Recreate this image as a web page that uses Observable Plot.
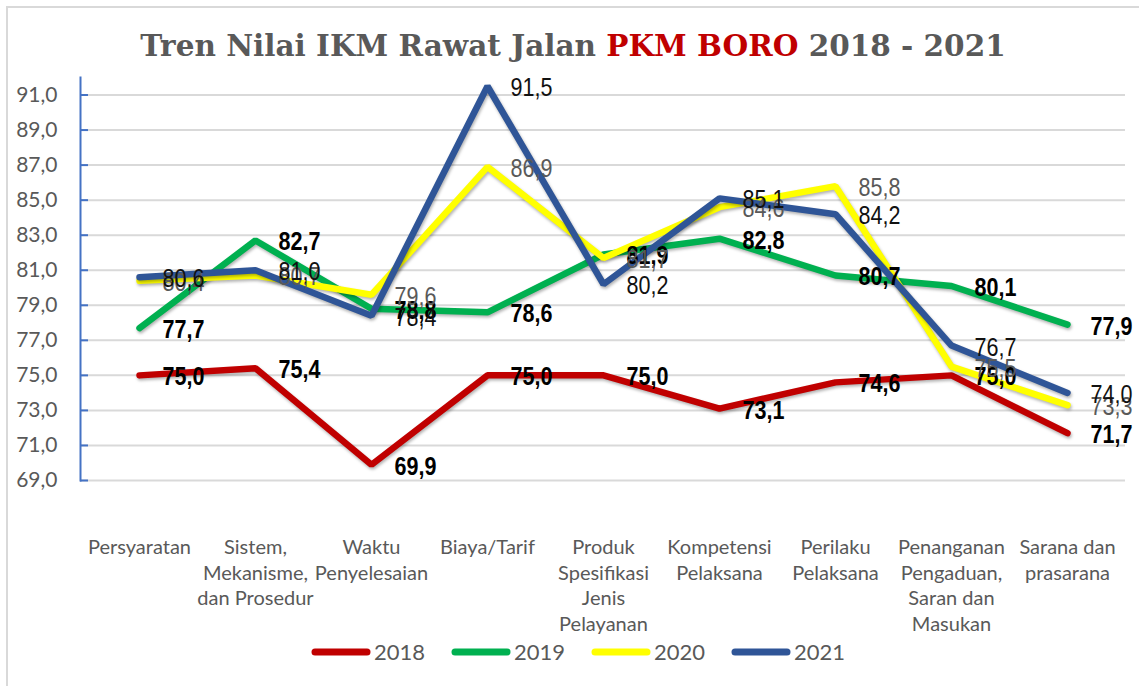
<!DOCTYPE html>
<html>
<head>
<meta charset="utf-8">
<script src="https://cdn.jsdelivr.net/npm/d3@7"></script>
<script src="https://cdn.jsdelivr.net/npm/@observablehq/plot@0.6"></script>
<style>
  body { margin: 0; background: #fff; width: 1139px; height: 686px; overflow: hidden; position: relative; font-family: Lato, sans-serif; }
  #border { position: absolute; left: 6px; top: 6px; width: 1300px; height: 900px; border: 2px solid #d9d9d9; box-sizing: border-box; }
  #title { position: absolute; top: 26px; left: 0; width: 1146px; text-align: center; font-family: "DejaVu Serif", "Liberation Serif", serif; font-weight: bold; font-size: 29.5px; color: #595959; white-space: nowrap; line-height: 40px; }
  #title .red { color: #C00000; }
  #chart { position: absolute; left: 0; top: 70px; }
  #legend { position: absolute; top: 638px; left: 0; width: 1156px; display: flex; justify-content: center; align-items: center; font-family: Lato, sans-serif; font-size: 22px; color: #595959; }
  #legend .item { display: flex; align-items: center; margin: 0 13px; }
  #legend svg { margin-right: 3px; }
  g[aria-label="line"] path { filter: drop-shadow(1px 2px 1.5px rgba(0,0,0,0.3)); }
</style>
</head>
<body>
<div id="border"></div>
<div id="title">Tren Nilai IKM Rawat Jalan <span class="red">PKM BORO</span> 2018 - 2021</div>
<div id="chart"></div>
<div id="legend"></div>
<script>
const categories = [
  "Persyaratan",
  "Sistem,\nMekanisme,\ndan Prosedur",
  "Waktu\nPenyelesaian",
  "Biaya/Tarif",
  "Produk\nSpesifikasi\nJenis\nPelayanan",
  "Kompetensi\nPelaksana",
  "Perilaku\nPelaksana",
  "Penanganan\nPengaduan,\nSaran dan\nMasukan",
  "Sarana dan\nprasarana"
];
const years = ["2018", "2019", "2020", "2021"];
const values2018 = [75.0, 75.4, 69.9, 75.0, 75.0, 73.1, 74.6, 75.0, 71.7];
const values2019 = [77.7, 82.7, 78.8, 78.6, 81.9, 82.8, 80.7, 80.1, 77.9];
const values2020 = [80.4, 80.7, 79.6, 86.9, 81.7, 84.6, 85.8, 75.5, 73.3];
const values2021 = [80.6, 81.0, 78.4, 91.5, 80.2, 85.1, 84.2, 76.7, 74.0];
const yTicks = [69, 71, 73, 75, 77, 79, 81, 83, 85, 87, 89, 91];
const seriesColors = ["#C00000", "#00B050", "#FFFF00", "#2F5597"];
const labelColors = ["#000000", "#000000", "#595959", "#111111"];
const labelWeights = ["bold", "bold", "normal", "normal"];

const allValues = [values2018, values2019, values2020, values2021];
const rows = [];
years.forEach((yr, i) => {
  categories.forEach((c, j) => rows.push({year: yr, category: c, value: allValues[i][j]}));
});
const fmt = v => v.toFixed(1).replace(".", ",");

const labelMarks = years.map((yr, i) => Plot.text(rows.filter(r => r.year === yr), {
  x: "category", y: "value", text: d => fmt(d.value),
  textAnchor: "start", dx: 23, dy: 2,
  fill: labelColors[i], fontWeight: labelWeights[i],
  fontSize: 25, fontFamily: "'Liberation Sans Narrow', 'Arial Narrow', 'Liberation Sans', sans-serif",
  className: "datalabel"
}));

const chart = Plot.plot({
  width: 1139,
  height: 570,
  marginLeft: 80,
  marginRight: 14,
  marginTop: 7,
  marginBottom: 160,
  style: {background: "transparent", overflow: "visible"},
  x: {type: "point", domain: categories, padding: 0.5},
  y: {domain: [69, 92]},
  color: {domain: years, range: seriesColors},
  marks: [
    Plot.gridY(yTicks, {stroke: "#d9d9d9", strokeOpacity: 1, strokeWidth: 2}),
    Plot.frame({anchor: "left", stroke: "#4472C4", strokeWidth: 2}),
    Plot.axisY(yTicks, {tickSize: 0, tickPadding: 23, tickFormat: fmt, fontSize: 21, fill: "#595959", fontFamily: "Lato, sans-serif", label: null}),
    Plot.axisY(yTicks, {tickSize: -8, text: null, stroke: "#4472C4", strokeWidth: 2, label: null}),
    Plot.axisX({tickSize: 0, tickPadding: 55, fontSize: 20, lineHeight: 1.29, fill: "#595959", fontFamily: "Lato, sans-serif", label: null}),
    Plot.line(rows, {x: "category", y: "value", z: "year", stroke: "year", strokeWidth: 6.5, strokeLinejoin: "miter", strokeLinecap: "round"}),
    ...labelMarks
  ]
});
document.getElementById("chart").appendChild(chart);

// Condense data labels to mimic a narrow typeface
chart.querySelectorAll("g.datalabel text, g[aria-label='text'] text").forEach(t => {
  const len = t.getComputedTextLength();
  if (len > 0) {
    t.setAttribute("textLength", (len * 0.86).toFixed(1));
    t.setAttribute("lengthAdjust", "spacingAndGlyphs");
  }
});

const legend = document.getElementById("legend");
years.forEach((yr, i) => {
  const item = document.createElement("div");
  item.className = "item";
  item.innerHTML = `<svg width="60" height="12"><line x1="4" y1="6" x2="56" y2="6" stroke="${seriesColors[i]}" stroke-width="7" stroke-linecap="round"/></svg><span>${yr}</span>`;
  legend.appendChild(item);
});
</script>
</body>
</html>
